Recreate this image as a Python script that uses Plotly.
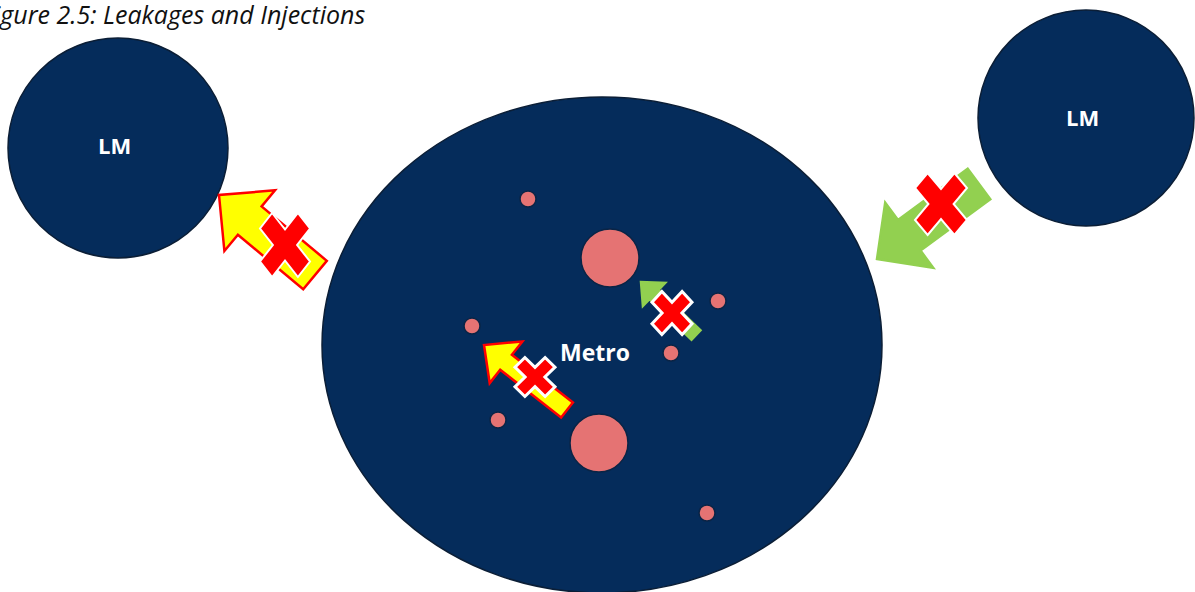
import math
import plotly.graph_objects as go

# ---- data (pixel-space diagram) ----
big_circle_labels = ["LM", "LM"]
big_circle_cx = [118, 1086]
big_circle_cy = [148, 118]
big_circle_r = [110, 108]
label_cx = [114, 1082]
label_cy = [145, 117]

metro_label = "Metro"
metro_center = (602, 345)
metro_radii = (280, 248)
metro_label_pos = (595, 352)

pink_cx = [610, 599, 528, 472, 718, 671, 498, 707]
pink_cy = [258, 443, 199, 326, 301, 353, 420, 513]
pink_r = [29, 29, 8, 8, 8, 8, 8, 8]

# arrows: tip, tail, shaft width, head width, head length, fill, outline
arrow_tips = [(219, 195), (877, 259), (484, 345), (641, 282)]
arrow_tails = [(315, 275), (979, 184), (567, 410), (696, 335)]
arrow_shaft_w = [37, 38, 19, 13]
arrow_head_w = [79, 81, 53, 32]
arrow_head_l = [40, 40, 28, 18]
arrow_fill = ["#FFFF00", "#92D050", "#FFFF00", "#92D050"]
arrow_line = ["#FF0000", "#92D050", "#FF0000", "#92D050"]

# crosses: center, width, height, stroke ratio, outline width
x_cx = [285, 941, 535, 672]
x_cy = [245, 204, 377, 313]
x_w = [50, 52, 40, 40]
x_h = [64, 62, 39, 43]
x_t = [0.32, 0.32, 0.33, 0.33]
x_outline = [2, 2, 3, 3]

title_text = "Figure 2.5: Leakages and Injections"

NAVY = "#052C5B"
PINK = "#E57373"

fig = go.Figure()
shapes = []

mx, my = metro_center
rx, ry = metro_radii
shapes.append(dict(type="circle", xref="x", yref="y", x0=mx - rx, x1=mx + rx, y0=my - ry, y1=my + ry,
                   fillcolor=NAVY, line=dict(color="#0B1E36", width=1.5)))
for cx, cy, r in zip(big_circle_cx, big_circle_cy, big_circle_r):
    shapes.append(dict(type="circle", xref="x", yref="y", x0=cx - r, x1=cx + r, y0=cy - r, y1=cy + r,
                       fillcolor=NAVY, line=dict(color="#0B1E36", width=1.5)))
for cx, cy, r in zip(pink_cx, pink_cy, pink_r):
    shapes.append(dict(type="circle", xref="x", yref="y", x0=cx - r, x1=cx + r, y0=cy - r, y1=cy + r,
                       fillcolor=PINK, line=dict(color="#0A2445", width=1.5)))


def arrow_path(tip, tail, sw, hw, hl):
    tx, ty = tip
    ex, ey = tail
    L = math.hypot(ex - tx, ey - ty)
    ux, uy = (ex - tx) / L, (ey - ty) / L
    px, py = -uy, ux
    bx, by = tx + ux * hl, ty + uy * hl
    pts = [
        (tx, ty),
        (bx + px * hw / 2, by + py * hw / 2),
        (bx + px * sw / 2, by + py * sw / 2),
        (ex + px * sw / 2, ey + py * sw / 2),
        (ex - px * sw / 2, ey - py * sw / 2),
        (bx - px * sw / 2, by - py * sw / 2),
        (bx - px * hw / 2, by - py * hw / 2),
    ]
    return "M " + " L ".join(f"{x:.1f},{y:.1f}" for x, y in pts) + " Z"


for i in range(len(arrow_tips)):
    shapes.append(dict(type="path", xref="x", yref="y",
                       path=arrow_path(arrow_tips[i], arrow_tails[i], arrow_shaft_w[i], arrow_head_w[i], arrow_head_l[i]),
                       fillcolor=arrow_fill[i], line=dict(color=arrow_line[i], width=2.5)))


def cross_path(cx, cy, w, h, t):
    plus = [(t, 1), (t, t), (1, t), (1, -t), (t, -t), (t, -1), (-t, -1), (-t, -t),
            (-1, -t), (-1, t), (-t, t), (-t, 1)]
    c = s = math.sqrt(0.5)
    E = (1 + t) / math.sqrt(2)
    sx, sy = (w / 2) / E, (h / 2) / E
    pts = [(cx + (x * c - y * s) * sx, cy + (x * s + y * c) * sy) for x, y in plus]
    return "M " + " L ".join(f"{x:.1f},{y:.1f}" for x, y in pts) + " Z"


for i in range(len(x_cx)):
    shapes.append(dict(type="path", xref="x", yref="y",
                       path=cross_path(x_cx[i], x_cy[i], x_w[i], x_h[i], x_t[i]),
                       fillcolor="#FF0000", line=dict(color="white", width=x_outline[i])))

fig.update_layout(shapes=shapes)

annotations = []
for lab, cx, cy in zip(big_circle_labels, label_cx, label_cy):
    annotations.append(dict(x=cx, y=cy, text=f"<b>{lab}</b>", showarrow=False, xref="x", yref="y",
                            font=dict(family="Open Sans", size=22, color="white")))
annotations.append(dict(x=metro_label_pos[0], y=metro_label_pos[1], text=f"<b>{metro_label}</b>",
                        showarrow=False, xref="x", yref="y",
                        font=dict(family="Open Sans", size=23, color="white")))
annotations.append(dict(x=367, y=14, text=f"<i>{title_text}</i>", showarrow=False,
                        xref="x", yref="y", xanchor="right",
                        font=dict(family="Open Sans", size=25, color="#111111")))
fig.update_layout(annotations=annotations)

fig.update_layout(
    width=1195, height=592,
    margin=dict(l=0, r=0, t=0, b=0),
    paper_bgcolor="white", plot_bgcolor="white",
    xaxis=dict(range=[0, 1195], visible=False, fixedrange=True),
    yaxis=dict(range=[592, 0], visible=False, fixedrange=True),
    showlegend=False,
)
fig.write_html("out.html", config={"displayModeBar": False},
               post_script="document.body.style.margin='0';document.body.style.overflow='hidden';")
